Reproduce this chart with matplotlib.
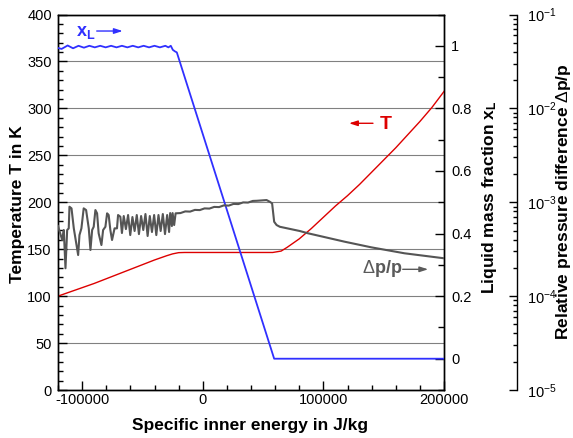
import matplotlib
matplotlib.use("Agg")
import matplotlib.pyplot as plt
from matplotlib.ticker import MultipleLocator, FixedLocator, LogLocator, FuncFormatter, NullFormatter

plt.rcParams['font.family'] = ['Liberation Sans', 'DejaVu Sans']
plt.rcParams['mathtext.fontset'] = 'custom'
plt.rcParams['mathtext.rm'] = 'Liberation Sans'
plt.rcParams['mathtext.it'] = 'Liberation Sans:italic'
plt.rcParams['mathtext.bf'] = 'Liberation Sans:bold'
plt.rcParams['axes.unicode_minus'] = False

# ---------------- data ----------------
# Temperature T in K over specific inner energy
energy_T = [-120000, -110000, -100000, -90000, -80000, -70000, -60000, -50000,
            -40000, -30000, -25000, -20000, -15000, 0, 20000, 40000, 58000,
            65000, 70000, 80000, 90000, 100000, 110000, 120000, 130000, 140000,
            150000, 160000, 170000, 180000, 190000, 200000]
temperature = [100, 104.5, 109, 113.5, 118.5, 123.5, 128.5, 133.5,
               138.5, 143, 145, 146.3, 146.5, 146.5, 146.5, 146.5, 146.5,
               148, 152, 161, 172, 184, 196, 207, 219, 232,
               245, 258, 272, 286, 301, 318]

# Liquid mass fraction x_L
energy_xL = [-120000, -117000, -112000, -107500, -103000, -98500, -94000, -89500,
             -85000, -80500, -76000, -71500, -67000, -62500, -58000, -53500,
             -49000, -44500, -40000, -35500, -31000, -28500, -26500, -24800,
             -23000, -21500, 59200, 200000]
x_liquid = [0.993, 0.990, 1.001, 0.992, 1.000, 0.994, 1.000, 0.995,
            1.000, 0.995, 1.000, 0.995, 1.000, 0.995, 1.000, 0.995,
            1.000, 0.995, 1.000, 0.995, 1.000, 0.995, 1.000, 0.987,
            0.982, 0.979, 0.0, 0.0]

# Relative pressure difference dp/p
energy_dp = [-120000, -116500, -115200, -113800, -112400, -111100, -110500, -108800,
             -106900, -103300, -102200, -100600, -98700, -96700, -94500, -93100,
             -91700, -90400, -89000, -87600, -86300, -84000, -82600, -80700,
             -79300, -78000, -76600, -75200, -73100, -71100, -70200, -68300,
             -67000, -65500, -63700, -61900, -60100, -58300, -56500, -54700,
             -52900, -51100, -49300, -47500, -45700, -43900, -42100, -40300,
             -38500, -36700, -34900, -33100, -31300, -29500, -27900, -27000,
             -25600, -25000, -23700, -22500, -18500, -14500, -10500, -6500,
             -2500, 1500, 5500, 9500, 13500, 17500, 21500, 25500,
             29500, 33500, 37500, 41500, 44900, 48500, 52900, 55600,
             57500, 59200, 61200, 63900, 80400, 87300, 117600, 139700,
             167200, 200000]
dp_rel = [5.58e-4, 3.96e-4, 5.06e-4, 1.98e-4, 5.06e-4, 5.27e-4, 8.96e-4, 8.61e-4,
          5.27e-4, 2.74e-4, 4.47e-4, 5.27e-4, 8.61e-4, 8.26e-4, 5.27e-4, 3.10e-4,
          5.06e-4, 5.48e-4, 8.26e-4, 7.62e-4, 4.67e-4, 3.50e-4, 5.06e-4, 5.48e-4,
          7.62e-4, 7.31e-4, 5.06e-4, 3.96e-4, 5.27e-4, 5.27e-4, 7.31e-4, 7.01e-4,
          4.70e-4, 7.13e-4, 5.18e-4, 7.31e-4, 4.47e-4, 6.96e-4, 4.94e-4, 7.31e-4,
          4.58e-4, 7.13e-4, 5.06e-4, 7.49e-4, 4.37e-4, 7.13e-4, 4.82e-4, 7.31e-4,
          4.47e-4, 7.31e-4, 4.94e-4, 7.49e-4, 4.58e-4, 7.31e-4, 4.82e-4, 7.67e-4,
          5.58e-4, 7.67e-4, 5.72e-4, 7.62e-4, 7.67e-4, 7.99e-4, 7.95e-4, 8.29e-4,
          8.25e-4, 8.60e-4, 8.56e-4, 8.92e-4, 8.88e-4, 9.26e-4, 9.21e-4, 9.60e-4,
          9.56e-4, 9.96e-4, 9.92e-4, 1.033e-3, 1.037e-3, 1.045e-3, 1.055e-3, 1.012e-3,
          9.73e-4, 6.20e-4, 5.72e-4, 5.48e-4, 4.94e-4, 4.67e-4, 3.80e-4, 3.31e-4,
          2.86e-4, 2.53e-4]

x_ticks = [-100000, 0, 100000, 200000]
xL_ticks = [0, 0.2, 0.4, 0.6, 0.8, 1]

# ---------------- styling ----------------
BLUE = '#3030ff'
RED = '#dd0000'
GRAY = '#555555'
TICK_FS = 10.5
LABEL_FS = 12.5

W, H = 573, 438
fig = plt.figure(figsize=(W / 100, H / 100), dpi=100)
ax = fig.add_axes([58 / W, 48 / H, 386 / W, 375.5 / H])
ax2 = ax.twinx()
ax3 = ax.twinx()

# temperature axis
ax.plot(energy_T, temperature, color=RED, lw=1.0, zorder=3)
ax.set_xlim(-120000, 200000)
ax.set_ylim(0, 400)
ax.xaxis.set_major_locator(FixedLocator(x_ticks))
ax.xaxis.set_minor_locator(MultipleLocator(20000))
ax.yaxis.set_major_locator(MultipleLocator(50))
ax.yaxis.set_minor_locator(MultipleLocator(10))
ax.grid(True, axis='y', which='major', color='#808080', lw=0.8)
ax.tick_params(axis='both', which='both', direction='in', top=False, right=False,
               width=1.0, labelsize=TICK_FS)
ax.tick_params(axis='both', which='major', length=6.5)
ax.tick_params(axis='both', which='minor', length=3.5)
ax.tick_params(axis='x', pad=2)
ax.tick_params(axis='y', pad=4.5)

# liquid mass fraction axis
ax2.plot(energy_xL, x_liquid, color=BLUE, lw=1.3, zorder=3)
ax2.set_ylim(-0.1, 1.1)
ax2.yaxis.set_major_locator(FixedLocator(xL_ticks))
ax2.yaxis.set_minor_locator(MultipleLocator(0.1))
ax2.yaxis.set_major_formatter(FuncFormatter(lambda v, p: f"{v:g}"))
ax2.tick_params(axis='y', which='both', direction='in', width=1.0, labelsize=TICK_FS, pad=5)
ax2.tick_params(axis='y', which='major', length=6.5)
ax2.tick_params(axis='y', which='minor', length=4.5)

# pressure difference axis (log, offset spine)
ax3.plot(energy_dp, dp_rel, color=GRAY, lw=1.5, zorder=3)
ax3.set_yscale('log')
ax3.set_ylim(1e-5, 1e-1)
ax3.spines['right'].set_position(('axes', 1.189))
for s in ('left', 'top', 'bottom'):
    ax3.spines[s].set_visible(False)
ax3.yaxis.set_major_locator(LogLocator(base=10, numticks=10))
ax3.yaxis.set_minor_locator(LogLocator(base=10, subs=range(2, 10), numticks=10))
ax3.yaxis.set_minor_formatter(NullFormatter())
ax3.tick_params(axis='y', which='both', direction='in', width=1.0, labelsize=TICK_FS, pad=7)
ax3.tick_params(axis='y', which='major', length=5.5)
ax3.tick_params(axis='y', which='minor', length=3)

for a in (ax, ax2, ax3):
    for s in a.spines.values():
        s.set_linewidth(1.0)

# axis titles
fig.text(21.7 / W, 1 - 204 / H, 'Temperature T in K', rotation=90, rotation_mode='anchor',
         ha='center', va='baseline', fontsize=LABEL_FS, fontweight='bold')
fig.text(494 / W, 1 - 197.5 / H, r'Liquid mass fraction x$_{\mathbf{L}}$', rotation=90,
         rotation_mode='anchor', ha='center', va='baseline', fontsize=LABEL_FS, fontweight='bold')
fig.text(568 / W, 1 - 202 / H, r'Relative pressure difference $\Delta$p/p', rotation=90,
         rotation_mode='anchor', ha='center', va='baseline', fontsize=LABEL_FS, fontweight='bold')
fig.text(250.5 / W, 1 - 430 / H, 'Specific inner energy in J/kg',
         ha='center', va='baseline', fontsize=LABEL_FS, fontweight='bold')

# curve labels with direction arrows
arrow_kw = dict(arrowstyle='-|>,head_length=0.5,head_width=0.16', lw=1.0,
                mutation_scale=10, shrinkA=0, shrinkB=0)
ax.text(0.0466, 0.9427, r'x$_{\mathbf{L}}$', transform=ax.transAxes, color=BLUE,
        fontsize=13, fontweight='bold', ha='left', va='baseline')
ax.annotate('', xy=(0.1676, 0.956), xytext=(0.1003, 0.956), xycoords='axes fraction',
            arrowprops=dict(color=BLUE, **arrow_kw))
ax.text(0.834, 0.6943, 'T', transform=ax.transAxes, color=RED,
        fontsize=14, fontweight='bold', ha='left', va='baseline')
ax.annotate('', xy=(0.754, 0.7103), xytext=(0.816, 0.7103), xycoords='axes fraction',
            arrowprops=dict(color=RED, **arrow_kw))
ax.text(0.787, 0.3108, r'$\Delta$p/p', transform=ax.transAxes, color='#5a5a5a',
        fontsize=13, fontweight='bold', ha='left', va='baseline')
ax.annotate('', xy=(0.959, 0.3214), xytext=(0.893, 0.3214), xycoords='axes fraction',
            arrowprops=dict(color='#5a5a5a', **arrow_kw))

fig.savefig('out.png', dpi=100)
